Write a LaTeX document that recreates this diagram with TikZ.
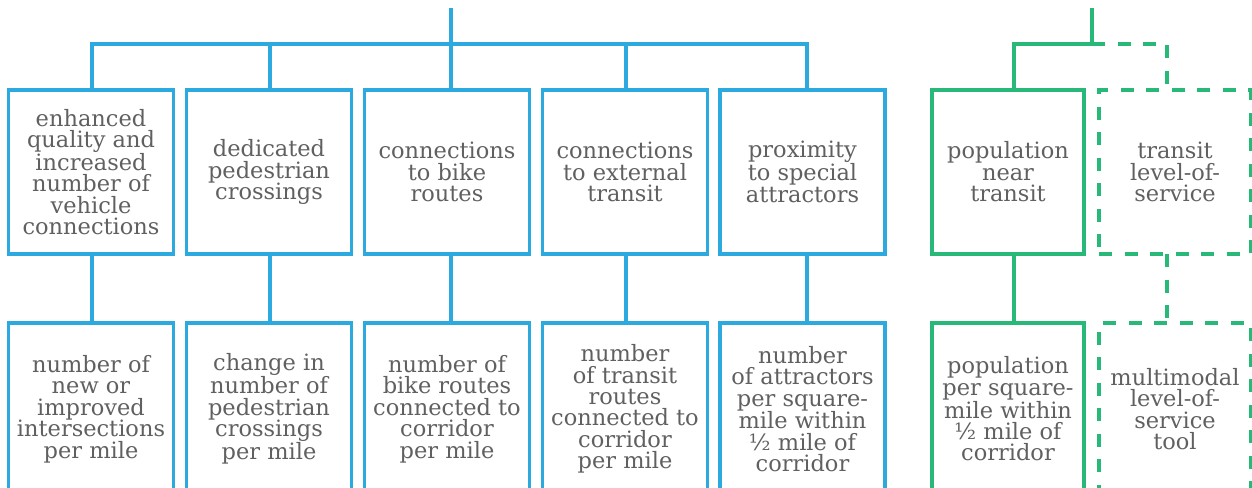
\documentclass[tikz,border=0pt]{standalone}
\usepackage{fontspec}
\setmainfont{DejaVu Serif}
\usetikzlibrary{calc}
\definecolor{bblue}{RGB}{44,170,224}
\definecolor{ggreen}{RGB}{40,185,120}
\definecolor{tgray}{RGB}{96,96,96}
\tikzset{
  box/.style={draw, line width=3.1pt, minimum width=165pt, minimum height=164pt,
    inner sep=0pt, outer sep=0pt, align=center, text=tgray,
    font=\fontsize{22.5pt}{21.4pt}\selectfont},
  bluebox/.style={box, draw=bblue},
  greenbox/.style={box, draw=ggreen, minimum width=152pt},
  greendash/.style={greenbox, dash pattern=on 13pt off 12.5pt},
  lowbox/.style={minimum height=172pt},
  bline/.style={draw=bblue, line width=3.1pt},
  gline/.style={draw=ggreen, line width=3.1pt},
  gdash/.style={gline, dash pattern=on 13pt off 12.5pt},
}
\begin{document}
\begin{tikzpicture}[x=1pt,y=-1pt]
\useasboundingbox (0,0) rectangle (1252,487);
\clip (0,0) rectangle (1252,487);
% top row
\node[bluebox] (t1) at (91,172) {enhanced\\quality and\\increased\\number of\\vehicle\\connections};
\node[bluebox] (t2) at (269,172) {dedicated\\pedestrian\\crossings};
\node[bluebox] (t3) at (447,172) {connections\\to bike\\routes};
\node[bluebox] (t4) at (625,172) {connections\\to external\\transit};
\node[bluebox] (t5) at (802.5,172) {proximity\\to special\\attractors};
\node[greenbox] (g1) at (1008,172) {population\\near\\transit};
\node[greendash] (g2) at (1175,172) {transit\\level-of-\\service};
% bottom row
\node[bluebox,lowbox] (b1) at (91,409) {number of\\new or\\improved\\intersections\\per mile};
\node[bluebox,lowbox] (b2) at (269,409) {change in\\number of\\pedestrian\\crossings\\per mile};
\node[bluebox,lowbox] (b3) at (447,409) {number of\\bike routes\\connected to\\corridor\\per mile};
\node[bluebox,lowbox] (b4) at (625,409) {number\\of transit\\routes\\connected to\\corridor\\per mile};
\node[bluebox,lowbox] (b5) at (802.5,409) {number\\of attractors\\per square-\\mile within\\½ mile of\\corridor};
\node[greenbox,lowbox] (gb1) at (1008,409) {population\\per square-\\mile within\\½ mile of\\corridor};
\node[greendash,lowbox] (gb2) at (1175,409) {multimodal\\level-of-\\service\\tool};
% blue connectors
\coordinate (btop) at (451,8);
\coordinate (bj) at (451,44);
\draw[bline] (btop) -- (bj);
\draw[bline] ($(t1.north)+(1,0)$) |- (bj) -| ($(t5.north)+(4.5,0)$);
\draw[bline] ($(t2.north)+(1,0)$) |- (bj);
\draw[bline] (bj) -- ($(t3.north)+(4,0)$);
\draw[bline] ($(t4.north)+(1,0)$) |- (bj);
\draw[bline] ($(t1.south)+(1,0)$) -- ($(b1.north)+(1,0)$);
\draw[bline] ($(t2.south)+(1,0)$) -- ($(b2.north)+(1,0)$);
\draw[bline] ($(t3.south)+(4,0)$) -- ($(b3.north)+(4,0)$);
\draw[bline] ($(t4.south)+(1,0)$) -- ($(b4.north)+(1,0)$);
\draw[bline] ($(t5.south)+(4.5,0)$) -- ($(b5.north)+(4.5,0)$);
% green connectors
\coordinate (gtop) at (1092,8);
\coordinate (gj) at (1092,44);
\draw[gline] (gtop) -- (gj) -| ($(g1.north)+(6,0)$);
\draw[gdash] (gj) -| ($(g2.north)+(-8,0)$);
\draw[gline] ($(g1.south)+(6,0)$) -- ($(gb1.north)+(6,0)$);
\draw[gdash] ($(g2.south)+(-8,0)$) -- ($(gb2.north)+(-8,0)$);
\end{tikzpicture}
\end{document}
